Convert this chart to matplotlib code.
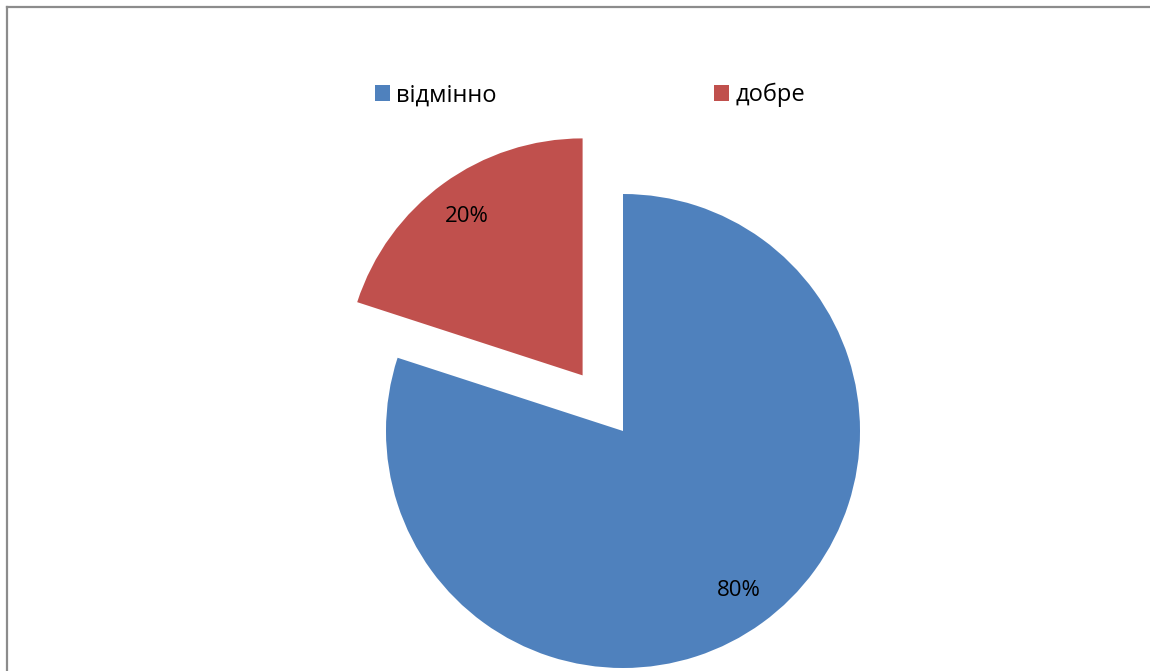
import matplotlib
matplotlib.use("Agg")
import matplotlib.pyplot as plt
from matplotlib.lines import Line2D
from matplotlib.patches import Patch

# data
labels = ["відмінно", "добре"]
shares = [80, 20]
colors = ["#4F81BD", "#C0504D"]
explode = [0, 0.29]

plt.rcParams['font.family'] = ['Open Sans', 'DejaVu Sans']

W, H = 1150, 671
fig = plt.figure(figsize=(W / 100, H / 100), dpi=100)
ax = fig.add_axes([0, 0, 1, 1])

# pie centre and radius in pixels
cx, cy, r = 623, 431, 237
ax.pie(shares, colors=colors, explode=explode, startangle=90, counterclock=False,
       autopct='%d%%', pctdistance=0.83, radius=1,
       textprops={'fontsize': 16, 'color': 'black'})
ax.set_xlim(-cx / r, (W - cx) / r)
ax.set_ylim(-(H - cy) / r, cy / r)
ax.set_aspect('auto')
ax.axis('off')

handles = [Patch(facecolor=c, edgecolor='none') for c in colors]
fig.legend(handles, labels, loc='center', bbox_to_anchor=(590 / W, 1 - 95 / H),
           ncol=2, frameon=False, fontsize=17, handlelength=0.64, handleheight=0.64,
           handletextpad=0.25, columnspacing=9.2)

# chart area border (left and top only visible)
gc = '#8c8c8c'
fig.add_artist(Line2D([7 / W, 7 / W], [0, 1 - 7 / H], transform=fig.transFigure,
                      color=gc, lw=1.6))
fig.add_artist(Line2D([7 / W, 1], [1 - 7 / H, 1 - 7 / H], transform=fig.transFigure,
                      color=gc, lw=1.6))

fig.savefig('out.png', dpi=100, facecolor='white')
